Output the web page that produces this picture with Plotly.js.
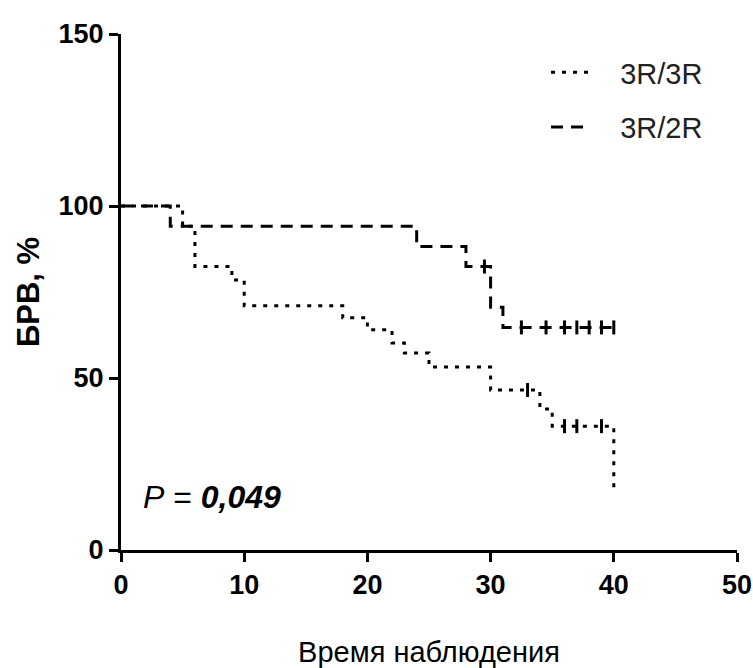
<!DOCTYPE html>
<html>
<head>
<meta charset="utf-8">
<script src="https://cdn.plot.ly/plotly-3.0.1.min.js"></script>
<style>html,body{margin:0;padding:0;background:#fff;}#chart{width:753px;height:668px;}</style>
</head>
<body>
<div id="chart"></div>
<script>
// 3R/3R (dotted) step curve: event times and survival (%) after each event
const timesA = [0, 5, 6, 9, 10, 18, 20, 22, 23, 25, 30, 34, 35, 40];
const survA  = [100, 94.1, 82.4, 78.5, 71, 67.5, 64, 60.2, 57.3, 53.2, 46.5, 41, 36, 18];
const censorTimesA = [33, 36, 37, 39];
const censorSurvA  = [46.5, 36, 36, 36];

// 3R/2R (dashed) step curve
const timesB = [0, 4, 24, 28, 30, 31, 40];
const survB  = [100, 94.1, 88.2, 82.4, 70.6, 64.7, 64.7];
const censorTimesB = [29.5, 32.5, 34.5, 36, 37, 38, 39, 40];
const censorSurvB  = [82.4, 64.7, 64.7, 64.7, 64.7, 64.7, 64.7, 64.7];

const nameA = "3R/3R";
const nameB = "3R/2R";
const xTicks = [0, 10, 20, 30, 40, 50];
const yTicks = [0, 50, 100, 150];
const xTitle = "Время наблюдения";
const yTitle = "БРВ, %";
const pText = "<i>P</i> = <b><i>0,049</i></b>";

const dotStyle = "4px,7px";
const dashStyle = "12px,8px";

const tick = {symbol: "line-ns-open", size: 10, color: "#000", line: {color: "#000", width: 3}};

const traces = [
  {x: timesA, y: survA, mode: "lines", line: {shape: "hv", color: "#000", width: 3, dash: dotStyle},
   name: "&nbsp;&nbsp;&nbsp;" + nameA, legendgroup: "a", hoverinfo: "skip"},
  {x: timesB, y: survB, mode: "lines", line: {shape: "hv", color: "#000", width: 3, dash: dashStyle},
   name: "&nbsp;&nbsp;&nbsp;" + nameB, legendgroup: "b", hoverinfo: "skip"},
  {x: censorTimesA, y: censorSurvA, mode: "markers", showlegend: false, legendgroup: "a",
   marker: tick, hoverinfo: "skip"},
  {x: censorTimesB, y: censorSurvB, mode: "markers", showlegend: false, legendgroup: "b",
   marker: tick, hoverinfo: "skip"}
];

const fam = "Liberation Sans, Arial, sans-serif";
const tickFont = {family: fam, size: 27, color: "#000", weight: "bold"};

const layout = {
  width: 753, height: 668,
  margin: {l: 121, r: 16, t: 34, b: 118, pad: 0},
  paper_bgcolor: "#fff", plot_bgcolor: "#fff",
  showlegend: true,
  legend: {x: 0.69, y: 0.975, xanchor: "left", yanchor: "top", bgcolor: "rgba(0,0,0,0)",
           font: {family: fam, size: 29, color: "#222"},
           traceorder: "grouped", tracegroupgap: 14, itemwidth: 40},
  xaxis: {range: [0, 50], tickvals: xTicks, ticktext: xTicks.map(String),
          showline: true, linecolor: "#000", linewidth: 3, ticks: "outside", ticklen: 9, tickwidth: 3,
          tickcolor: "#000", showgrid: false, zeroline: false, tickfont: tickFont,
          title: {text: xTitle, standoff: 44, font: {family: fam, size: 29, color: "#000"}}},
  yaxis: {range: [0, 150], tickvals: yTicks, ticktext: yTicks.map(String),
          showline: true, linecolor: "#000", linewidth: 3, ticks: "outside", ticklen: 9, tickwidth: 3,
          tickcolor: "#000", showgrid: false, zeroline: false, tickfont: tickFont,
          title: {text: "<b>" + yTitle + "</b>", standoff: 10, font: {family: fam, size: 31, color: "#000"}}},
  annotations: [
    {x: 1.6, y: 15.5, xref: "x", yref: "y", xanchor: "left", yanchor: "middle", showarrow: false,
     text: pText, font: {family: fam, size: 32, color: "#000"}}
  ]
};

Plotly.newPlot("chart", traces, layout, {displayModeBar: false, staticPlot: true});
</script>
</body>
</html>
